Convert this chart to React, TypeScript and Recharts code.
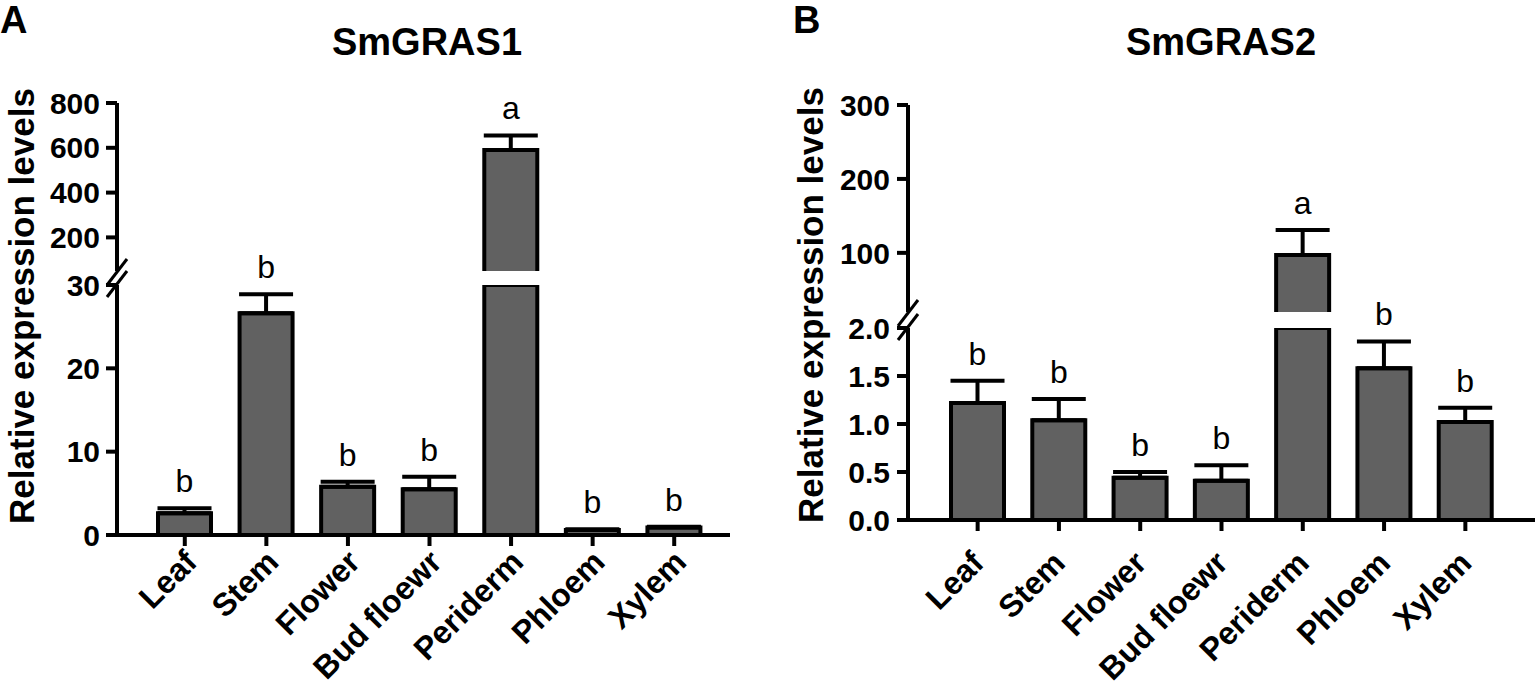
import React from 'react';
import { BarChart, Bar, XAxis, YAxis, ErrorBar, LabelList } from 'recharts';

const FONT = '"Liberation Sans", Arial, Helvetica, sans-serif';

// ---- data ----
const categories = ['Leaf', 'Stem', 'Flower', 'Bud floewr', 'Periderm', 'Phloem', 'Xylem'];

const gras1Mean = [2.6, 26.6, 5.8, 5.5, 590, 0.6, 0.9];
const gras1Err = [0.6, 2.3, 0.6, 1.5, 65, 0.1, 0.1];
const gras1Letters = ['b', 'b', 'b', 'b', 'a', 'b', 'b'];
const gras1LowerTicks = [0, 10, 20, 30];
const gras1UpperTicks = [200, 400, 600, 800];
const gras1LowerDomain = [0, 30];
const gras1UpperDomain = [50, 800];

const gras2Mean = [1.22, 1.04, 0.44, 0.41, 97, 1.58, 1.02];
const gras2Err = [0.23, 0.22, 0.06, 0.16, 34, 0.28, 0.15];
const gras2Letters = ['b', 'b', 'b', 'b', 'a', 'b', 'b'];
const gras2LowerTicks = [0, 0.5, 1, 1.5, 2];
const gras2UpperTicks = [100, 200, 300];
const gras2LowerDomain = [0, 2];
const gras2UpperDomain = [20, 300];

const W = 1535;
const H = 689;

function buildLower(means: number[], errs: number[], letters: string[], max: number) {
  return categories.map((name, i) => {
    const broken = means[i] > max;
    return {
      name,
      mean: means[i],
      err: broken ? null : [0, errs[i]],
      top: broken ? null : errs[i],
      letter: broken ? null : letters[i],
    };
  });
}

function buildUpper(means: number[], errs: number[], letters: string[], max: number) {
  return categories.map((name, i) => {
    const broken = means[i] > max;
    return {
      name,
      mean: broken ? means[i] : null,
      err: broken ? [0, errs[i]] : null,
      top: broken ? errs[i] : null,
      letter: broken ? letters[i] : null,
    };
  });
}

const BarShape = (props: any) => {
  const { x, y, width, height, value } = props;
  if (!height || height <= 0 || value == null) return <g />;
  const v = Array.isArray(value) ? value[1] - value[0] : value;
  if (!v) return <g />;
  return (
    <g>
      <rect x={x} y={y} width={width} height={height} fill="#616161" />
      <path
        d={`M${x},${y + height} L${x},${y} L${x + width},${y} L${x + width},${y + height}`}
        stroke="#000"
        strokeWidth={4}
        fill="none"
      />
    </g>
  );
};

const EmptyShape = () => <g />;

const renderLetter = (props: any) => {
  const { x, y, width, value } = props;
  if (value == null || value === '') return null;
  return (
    <text
      x={Number(x) + Number(width) / 2}
      y={Number(y) - 16}
      textAnchor="middle"
      fontFamily={FONT}
      fontSize={32}
      style={{ fontSize: 32, fontFamily: FONT }}
      fill="#000"
    >
      {value}
    </text>
  );
};

const X_FONT = 32;

const makeXTick = (dx: number, dy: number) => (props: any) => {
  const { x, y, payload } = props;
  return (
    <g transform={`translate(${x + dx},${y + dy})`}>
      <text
        transform="rotate(-45)"
        textAnchor="end"
        fontFamily={FONT}
        fontSize={X_FONT}
        fontWeight="bold"
        style={{ fontSize: X_FONT, fontWeight: 700, fontFamily: FONT }}
        fill="#000"
      >
        {payload.value}
      </text>
    </g>
  );
};

const axisStroke = { stroke: '#000', strokeWidth: 4 };
const yTickStyle = { fill: '#000', fontSize: 30, fontWeight: 'bold', fontFamily: FONT };

type SegProps = {
  data: any[];
  margin: { top: number; left: number; right: number; bottom: number };
  domain: number[];
  ticks: number[];
  fmt?: (v: number) => string;
  showX: boolean;
  padL: number;
  padR: number;
  xTick?: any;
  tickSize: number;
  tickMargin: number;
};

const Segment = ({ data, margin, domain, ticks, fmt, showX, padL, padR, xTick, tickSize, tickMargin }: SegProps) => (
  <div style={{ position: 'absolute', left: 0, top: 0, width: W, height: H }}>
    <BarChart width={W} height={H} data={data} margin={margin} barSize={53}>
      <XAxis
        dataKey="name"
        hide={!showX}
        interval={0}
        height={150}
        padding={{ left: padL, right: padR }}
        axisLine={axisStroke}
        tickLine={axisStroke}
        tickSize={11}
        tick={xTick}
      />
      <YAxis
        type="number"
        domain={domain}
        ticks={ticks}
        allowDataOverflow
        interval={0}
        width={100}
        axisLine={axisStroke}
        tickLine={axisStroke}
        tickSize={tickSize}
        tickMargin={tickMargin}
        tick={yTickStyle}
        tickFormatter={fmt}
      />
      <Bar dataKey="mean" stackId="s" isAnimationActive={false} shape={<BarShape />}>
        <ErrorBar dataKey="err" width={27} strokeWidth={4} stroke="#000" direction="y" />
      </Bar>
      <Bar dataKey="top" stackId="s" isAnimationActive={false} shape={<EmptyShape />}>
        <LabelList dataKey="letter" position="top" content={renderLetter} />
      </Bar>
    </BarChart>
  </div>
);

const BreakMark = ({ x, yU, yL }: { x: number; yU: number; yL: number }) => (
  <g stroke="#000" strokeWidth={3}>
    <line x1={x - 10} y1={yU + 14} x2={x + 10} y2={yU - 12} />
    <line x1={x - 10} y1={yL + 12} x2={x + 10} y2={yL - 14} />
  </g>
);

export default function App() {
  const lowerA = buildLower(gras1Mean, gras1Err, gras1Letters, gras1LowerDomain[1]);
  const upperA = buildUpper(gras1Mean, gras1Err, gras1Letters, gras1LowerDomain[1]);
  const lowerB = buildLower(gras2Mean, gras2Err, gras2Letters, gras2LowerDomain[1]);
  const upperB = buildUpper(gras2Mean, gras2Err, gras2Letters, gras2LowerDomain[1]);

  return (
    <div style={{ position: 'absolute', left: 0, top: 0, width: W, height: H, background: '#fff' }}>
      {/* Panel A */}
      <Segment
        data={upperA}
        margin={{ top: 103, left: 17, right: 805, bottom: 418 }}
        domain={gras1UpperDomain}
        ticks={gras1UpperTicks}
        showX={false}
        padL={27}
        padR={15}
        tickSize={11}
        tickMargin={6}
      />
      <Segment
        data={lowerA}
        margin={{ top: 285, left: 17, right: 805, bottom: 4 }}
        domain={gras1LowerDomain}
        ticks={gras1LowerTicks}
        showX={true}
        padL={27}
        padR={15}
        xTick={makeXTick(14, 16)}
        tickSize={11}
        tickMargin={6}
      />
      {/* Panel B */}
      <Segment
        data={upperB}
        margin={{ top: 105, left: 808, right: 0, bottom: 377 }}
        domain={gras2UpperDomain}
        ticks={gras2UpperTicks}
        showX={false}
        padL={29}
        padR={29}
        tickSize={11}
        tickMargin={7}
      />
      <Segment
        data={lowerB}
        margin={{ top: 328, left: 808, right: 0, bottom: 19 }}
        domain={gras2LowerDomain}
        ticks={gras2LowerTicks}
        fmt={(v: number) => v.toFixed(1)}
        showX={true}
        padL={29}
        padR={29}
        xTick={makeXTick(8, 32)}
        tickSize={11}
        tickMargin={7}
      />
      <svg
        width={W}
        height={H}
        style={{ position: 'absolute', left: 0, top: 0, pointerEvents: 'none' }}
      >
        <g fontFamily={FONT} fontWeight="bold" fill="#000">
          <text x={0} y={33} fontSize={38}>A</text>
          <text x={793} y={33} fontSize={38}>B</text>
          <text x={427} y={55} fontSize={38} textAnchor="middle">SmGRAS1</text>
          <text x={1221} y={55} fontSize={38} textAnchor="middle">SmGRAS2</text>
          <text
            x={21}
            y={306}
            fontSize={35}
            textAnchor="middle"
            dominantBaseline="central"
            transform="rotate(-90, 21, 306)"
          >
            Relative expression levels
          </text>
          <text
            x={810}
            y={305}
            fontSize={35}
            textAnchor="middle"
            dominantBaseline="central"
            transform="rotate(-90, 810, 305)"
          >
            Relative expression levels
          </text>
        </g>
        <BreakMark x={117} yU={271} yL={285} />
        <BreakMark x={908} yU={312} yL={328} />
      </svg>
    </div>
  );
}
